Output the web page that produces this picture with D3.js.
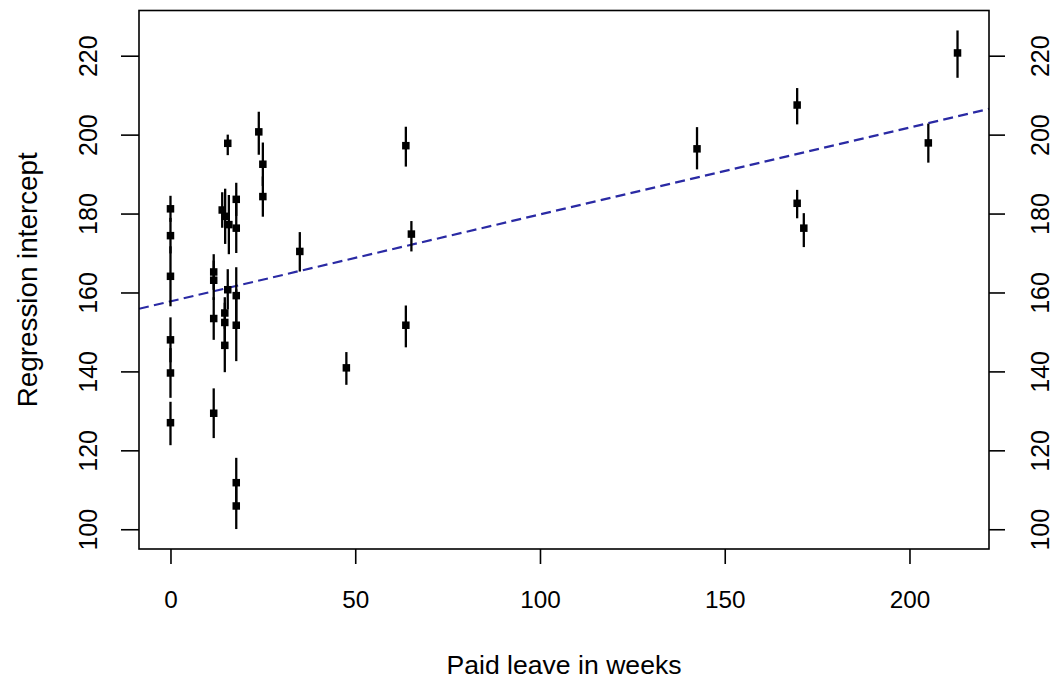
<!DOCTYPE html>
<html>
<head>
<meta charset="utf-8">
<script src="https://cdn.jsdelivr.net/npm/d3@7"></script>
<style>
  html, body { margin: 0; padding: 0; background: #fff; }
  svg { display: block; }
  text { font-family: "Liberation Sans", Arial, sans-serif; fill: #000; }
</style>
</head>
<body>
<svg id="chart" width="1058" height="684"></svg>
<script>
// ---- data ----
const weeks      = [0, 0, 0, 0, 0, 0,
                    11.7, 11.7, 11.7, 11.7,
                    15.5, 15.5, 14.0, 14.8, 15.8,
                    17.8, 17.8, 17.8, 17.8, 17.8, 17.8,
                    14.7, 14.7, 14.7,
                    23.9, 25.0, 25.0, 35.0, 47.6,
                    63.7, 63.7, 65.2, 142.5,
                    169.6, 169.6, 171.4, 205.1, 213.0];
const intercepts = [181.2, 174.4, 164.1, 148.0, 139.6, 127.0,
                    165.2, 163.1, 153.4, 129.4,
                    197.8, 160.7, 180.9, 179.3, 177.2,
                    183.6, 176.3, 159.2, 151.7, 111.8, 105.9,
                    154.8, 152.4, 146.6,
                    200.7, 192.5, 184.3, 170.4, 140.9,
                    197.2, 151.7, 174.8, 196.4,
                    207.5, 182.6, 176.3, 197.9, 220.7];
const lower      = [177.9, 169.9, 156.5, 142.3, 133.3, 121.3,
                    160.7, 158.1, 148.0, 123.1,
                    194.8, 155.7, 176.4, 172.3, 169.7,
                    179.4, 170.0, 152.0, 142.6, 105.5, 100.05,
                    150.8, 147.4, 139.8,
                    194.9, 187.0, 179.2, 165.3, 136.6,
                    191.9, 146.1, 170.4, 191.2,
                    202.6, 178.8, 171.5, 192.9, 214.4];
const upper      = [184.5, 178.9, 171.7, 153.7, 145.9, 132.3,
                    169.7, 168.1, 158.8, 135.7,
                    200.0, 165.9, 185.4, 186.3, 184.7,
                    187.8, 182.6, 166.4, 160.8, 118.1, 111.8,
                    158.8, 157.4, 153.3,
                    205.8, 198.0, 189.4, 175.3, 144.9,
                    202.0, 156.7, 178.1, 201.9,
                    211.8, 186.0, 180.1, 202.8, 226.4];
const xTicks = [0, 50, 100, 150, 200];
const yTicks = [100, 120, 140, 160, 180, 200, 220];
const fitIntercept = 157.75;
const fitSlope = 0.2202;
const xTitle = "Paid leave in weeks";
const yTitle = "Regression intercept";

// ---- layout ----
const L = 139, R = 989, T = 10.5, B = 549;
const svg = d3.select("#chart");

function rExtend(lo, hi) { const e = (hi - lo) * 0.04; return [lo - e, hi + e]; }
const xDom = rExtend(d3.min(weeks), d3.max(weeks));
const yDom = rExtend(d3.min(lower), d3.max(upper));
const x = d3.scaleLinear().domain(xDom).range([L, R]);
const y = d3.scaleLinear().domain(yDom).range([B, T]);

const pts = weeks.map((w, i) => ({ w, v: intercepts[i], lo: lower[i], hi: upper[i] }));

// clip for regression line
svg.append("clipPath").attr("id", "clip")
  .append("rect").attr("x", L).attr("y", T).attr("width", R - L).attr("height", B - T);

// regression line (dashed dark blue)
const lineX = [xDom[0], xDom[1]];
svg.append("path")
  .attr("clip-path", "url(#clip)")
  .attr("d", d3.line().x(d => x(d)).y(d => y(fitIntercept + fitSlope * d))(lineX))
  .attr("fill", "none")
  .attr("stroke", "#2a2aa4")
  .attr("stroke-width", 2.2)
  .attr("stroke-dasharray", "10,5.3");

// error bars
svg.append("g").selectAll("line").data(pts).join("line")
  .attr("x1", d => x(d.w)).attr("x2", d => x(d.w))
  .attr("y1", d => y(d.lo)).attr("y2", d => y(d.hi))
  .attr("stroke", "#000").attr("stroke-width", 2.3);

// points (filled squares)
const S = 7.5;
svg.append("g").selectAll("rect").data(pts).join("rect")
  .attr("x", d => x(d.w) - S / 2).attr("y", d => y(d.v) - S / 2)
  .attr("width", S).attr("height", S).attr("fill", "#000");

// box
svg.append("rect").attr("x", L).attr("y", T).attr("width", R - L).attr("height", B - T)
  .attr("fill", "none").attr("stroke", "#000").attr("stroke-width", 1.6);

// bottom axis
const xAxis = d3.axisBottom(x).tickValues(xTicks).tickSize(15).tickFormat(d3.format("d"));
const gx = svg.append("g").attr("transform", `translate(0,${B})`).call(xAxis);
gx.select(".domain").remove();
gx.selectAll(".tick line").attr("stroke", "#000").attr("stroke-width", 1.6);
gx.selectAll(".tick text").attr("y", 0).attr("dy", null)
  .attr("transform", "translate(0,59)")
  .style("font-size", "24.3px").style("font-family", "Liberation Sans, Arial, sans-serif")
  .attr("fill", "#000");

// left axis
const yAxisL = d3.axisLeft(y).tickValues(yTicks).tickSize(18).tickFormat(d3.format("d"));
const gyl = svg.append("g").attr("transform", `translate(${L},0)`).call(yAxisL);
gyl.select(".domain").remove();
gyl.selectAll(".tick line").attr("stroke", "#000").attr("stroke-width", 1.6);
gyl.selectAll(".tick text")
  .attr("x", null).attr("dy", null)
  .attr("text-anchor", "middle")
  .attr("transform", "translate(-42,0) rotate(-90)")
  .style("font-size", "25px").style("font-family", "Liberation Sans, Arial, sans-serif")
  .attr("fill", "#000");

// right axis
const yAxisR = d3.axisRight(y).tickValues(yTicks).tickSize(16).tickFormat(d3.format("d"));
const gyr = svg.append("g").attr("transform", `translate(${R},0)`).call(yAxisR);
gyr.select(".domain").remove();
gyr.selectAll(".tick line").attr("stroke", "#000").attr("stroke-width", 1.6);
gyr.selectAll(".tick text")
  .attr("x", null).attr("dy", null)
  .attr("text-anchor", "middle")
  .attr("transform", "translate(60,0) rotate(-90)")
  .style("font-size", "25px").style("font-family", "Liberation Sans, Arial, sans-serif")
  .attr("fill", "#000");

// titles
svg.append("text").attr("x", (L + R) / 2).attr("y", 674)
  .attr("text-anchor", "middle").style("font-size", "26.6px").text(xTitle);
svg.append("text").attr("transform", `translate(36.5,${(T + B) / 2}) rotate(-90)`)
  .attr("text-anchor", "middle").style("font-size", "27.8px").text(yTitle);
</script>
</body>
</html>
